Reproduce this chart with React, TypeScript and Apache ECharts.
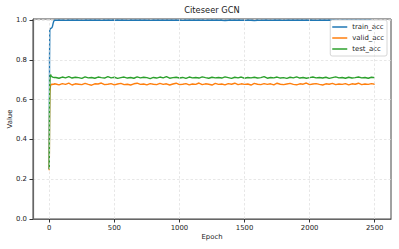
import React, { useEffect, useRef } from "react";
import * as echarts from "echarts";

const epochs = [
  0, 2, 4, 6, 8, 10, 12, 15, 20, 25, 30, 35, 40,
  50, 75, 100, 125, 150, 175, 200, 225, 250, 275, 300, 325, 350, 375, 400, 425, 450, 475,
  500, 525, 550, 575, 600, 625, 650, 675, 700, 725, 750, 775, 800, 825, 850, 875, 900, 925, 950, 975,
  1000, 1025, 1050, 1075, 1100, 1125, 1150, 1175, 1200, 1225, 1250, 1275, 1300, 1325, 1350, 1375, 1400, 1425, 1450, 1475,
  1500, 1525, 1550, 1575, 1600, 1625, 1650, 1675, 1700, 1725, 1750, 1775, 1800, 1825, 1850, 1875, 1900, 1925, 1950, 1975,
  2000, 2025, 2050, 2075, 2100, 2125, 2150, 2175, 2200, 2225, 2250, 2275, 2300, 2325, 2350, 2375, 2400, 2425, 2450, 2475,
  2500,
];

const trainAcc = [
  0.25, 0.8, 0.95, 0.955, 0.957, 0.958, 0.958, 0.96, 0.962, 0.97, 0.985, 0.996, 0.999,
  1.0, 1.0, 1.0, 0.999, 1.0, 1.0, 1.0, 1.0, 0.999, 1.0, 1.0, 1.0, 1.0, 1.0, 0.999, 1.0, 1.0, 1.0,
  1.0, 1.0, 1.0, 1.0, 0.999, 1.0, 1.0, 1.0, 1.0, 1.0, 1.0, 0.999, 1.0, 1.0, 1.0, 1.0, 1.0, 1.0, 1.0,
  1.0, 1.0, 0.999, 1.0, 1.0, 1.0, 1.0, 1.0, 1.0, 0.999, 1.0, 1.0, 1.0, 1.0, 1.0, 0.998, 1.0, 1.0, 1.0, 1.0,
  1.0, 0.999, 1.0, 1.0, 0.998, 1.0, 0.999, 1.0, 1.0, 0.999, 1.0, 1.0, 1.0, 0.999, 1.0, 1.0, 1.0, 1.0, 1.0, 1.0,
  1.0, 1.0, 1.0, 0.999, 1.0, 1.0, 1.0, 1.0, 1.0, 1.0, 0.999, 1.0, 1.0, 1.0, 1.0, 1.0, 1.0, 1.0, 1.0, 1.0,
  1.0,
];

const validAcc = [
  0.245, 0.5, 0.63, 0.655, 0.665, 0.67, 0.675, 0.673, 0.678, 0.676, 0.679, 0.677, 0.68,
  0.679, 0.675, 0.681, 0.677, 0.683, 0.674, 0.680, 0.678, 0.676, 0.682,
  0.677, 0.673, 0.680, 0.679, 0.684, 0.676, 0.678, 0.681, 0.675, 0.679,
  0.682, 0.676, 0.678, 0.674, 0.680, 0.683, 0.677, 0.679, 0.675, 0.681,
  0.678, 0.676, 0.682, 0.677, 0.680, 0.674, 0.679, 0.683, 0.676, 0.678,
  0.681, 0.675, 0.679, 0.677, 0.684, 0.676, 0.680, 0.678, 0.674, 0.682,
  0.677, 0.679, 0.675, 0.681, 0.678, 0.683, 0.676, 0.680, 0.677, 0.679,
  0.674, 0.682, 0.678, 0.676, 0.681, 0.677, 0.680, 0.675, 0.683, 0.678,
  0.676, 0.679, 0.682, 0.677, 0.675, 0.680, 0.678, 0.684, 0.676, 0.679,
  0.681, 0.677, 0.674, 0.680, 0.678, 0.682, 0.676, 0.679, 0.677, 0.681,
  0.675, 0.680, 0.678, 0.683, 0.676, 0.679, 0.677, 0.681, 0.678,
];

const testAcc = [
  0.25, 0.55, 0.68, 0.71, 0.722, 0.726, 0.724, 0.72, 0.716, 0.714, 0.713, 0.712, 0.713,
  0.712, 0.708, 0.714, 0.710, 0.716, 0.709, 0.713, 0.711, 0.707, 0.715,
  0.710, 0.712, 0.708, 0.714, 0.711, 0.709, 0.716, 0.710, 0.713, 0.707,
  0.711, 0.714, 0.709, 0.712, 0.708, 0.715, 0.710, 0.713, 0.711, 0.706,
  0.712, 0.709, 0.714, 0.710, 0.716, 0.708, 0.711, 0.713, 0.709, 0.712,
  0.707, 0.714, 0.710, 0.712, 0.709, 0.715, 0.711, 0.708, 0.713, 0.710,
  0.712, 0.709, 0.715, 0.711, 0.707, 0.713, 0.710, 0.714, 0.708, 0.712,
  0.710, 0.713, 0.709, 0.711, 0.716, 0.708, 0.712, 0.710, 0.714, 0.709,
  0.711, 0.707, 0.713, 0.710, 0.715, 0.709, 0.712, 0.708, 0.711, 0.714,
  0.710, 0.712, 0.709, 0.713, 0.707, 0.711, 0.715, 0.710, 0.712, 0.708,
  0.713, 0.709, 0.711, 0.714, 0.710, 0.712, 0.708, 0.713, 0.711,
];

const seriesNames = ["train_acc", "valid_acc", "test_acc"];
const seriesColors = ["#1f77b4", "#ff7f0e", "#2ca02c"];
const xTicks = [0, 500, 1000, 1500, 2000, 2500];

const FONT = "DejaVu Sans";
const TEXT = "#222222";
const AXIS = "#666666";
const GRID = "#dddddd";

export default function App() {
  const ref = useRef<HTMLDivElement>(null);
  useEffect(() => {
    if (!ref.current) return;
    const chart = echarts.init(ref.current, null, { renderer: "svg" });
    const values = [trainAcc, validAcc, testAcc];
    const gridLine = { color: GRID, type: [2.5, 2] as number[], width: 0.7 };
    chart.setOption({
      animation: false,
      backgroundColor: "#ffffff",
      title: {
        text: "Citeseer GCN",
        left: 212,
        textAlign: "center",
        top: 6,
        padding: 0,
        textStyle: { fontFamily: FONT, fontSize: 8.3, fontWeight: "normal", color: TEXT },
      },
      legend: {
        orient: "vertical",
        right: 12,
        top: 20,
        padding: [3, 3, 3, 2],
        itemGap: 3,
        itemWidth: 15,
        itemHeight: 1.5,
        icon: "rect",
        backgroundColor: "#ffffff",
        borderColor: "#cccccc",
        borderWidth: 0.8,
        borderRadius: 2,
        textStyle: { fontFamily: FONT, fontSize: 6.9, color: TEXT, lineHeight: 8 },
        data: seriesNames,
      },
      grid: {
        left: 33,
        right: 8,
        top: 19,
        bottom: 30,
        containLabel: false,
        outerBoundsMode: "none",
        show: true,
        borderColor: "#444444",
        borderWidth: 1,
      },
      xAxis: {
        type: "value",
        min: -125,
        max: 2625,
        name: "Epoch",
        nameLocation: "middle",
        nameGap: 14,
        nameMoveOverlap: false,
        nameTextStyle: { fontFamily: FONT, fontSize: 6.9, color: TEXT, verticalAlign: "top" },
        axisLine: { show: true, onZero: false, lineStyle: { color: AXIS, width: 1.2 } },
        axisTick: { show: true, length: 3.5, customValues: xTicks, lineStyle: { color: "#333" } },
        axisLabel: {
          customValues: xTicks,
          margin: 5,
          fontFamily: FONT,
          fontSize: 6.9,
          color: TEXT,
          formatter: (v: number) => String(v),
        },
        splitLine: { show: false },
        minorSplitLine: { show: false },
      },
      yAxis: {
        type: "value",
        min: 0,
        max: 1.006,
        interval: 0.2,
        name: "Value",
        nameLocation: "middle",
        nameRotate: 90,
        nameGap: 20,
        nameMoveOverlap: false,
        nameTextStyle: { fontFamily: FONT, fontSize: 6.9, color: TEXT },
        axisLine: { show: true, onZero: false, lineStyle: { color: AXIS, width: 1.2 } },
        axisTick: { show: true, length: 3.5, lineStyle: { color: "#333" } },
        axisLabel: {
          margin: 6,
          fontFamily: FONT,
          fontSize: 6.9,
          color: TEXT,
          formatter: (v: number) => v.toFixed(1),
          showMaxLabel: false,
        },
        splitLine: { show: true, lineStyle: gridLine },
      },
      series: [
        {
          name: "__xgrid",
          type: "line",
          data: [],
          silent: true,
          z: 1,
          markLine: {
            silent: true,
            symbol: ["none", "none"],
            label: { show: false },
            lineStyle: gridLine,
            data: xTicks.map((t) => ({ xAxis: t })),
          },
        },
        ...seriesNames.map((name, k) => ({
          name,
          type: "line",
          showSymbol: false,
          symbol: "none",
          z: 3,
          color: seriesColors[k],
          lineStyle: { width: 1.4, color: seriesColors[k] },
          data: epochs.map((e, i) => [e, values[k][i]]),
        })),
      ],
    });
    return () => chart.dispose();
  }, []);
  return (
    <div
      ref={ref}
      style={{ position: "absolute", left: 0, top: 0, width: 399, height: 249 }}
    />
  );
}
